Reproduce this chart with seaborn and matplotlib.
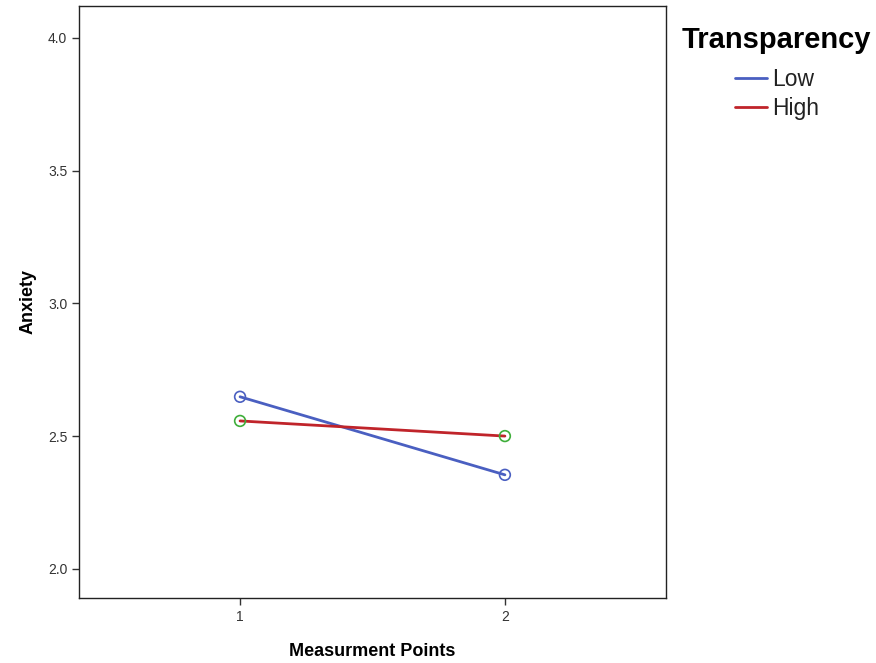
import pandas as pd
import matplotlib
matplotlib.use('Agg')
import matplotlib.pyplot as plt
import seaborn as sns

# Data
points = [1, 2]
low = [2.648, 2.354]
high = [2.557, 2.50]
groups = ['Low', 'High']

df = pd.DataFrame({
    'Measurment Points': points * 2,
    'Anxiety': low + high,
    'Transparency': [groups[0]] * 2 + [groups[1]] * 2,
})

sns.set_style('white')
plt.rcParams['font.family'] = ['Liberation Sans', 'DejaVu Sans']

line_colors = {'Low': '#4a5fc1', 'High': '#c0242a'}
marker_colors = {'Low': '#4a5fc1', 'High': '#3fae3a'}

fig = plt.figure(figsize=(8.76, 6.63), dpi=100)
ax = fig.add_axes([0.0902, 0.098, 0.670, 0.893])

sns.lineplot(data=df, x='Measurment Points', y='Anxiety', hue='Transparency',
             palette=line_colors, linewidth=2, ax=ax)
for g in groups:
    sub = df[df['Transparency'] == g]
    ax.scatter(sub['Measurment Points'], sub['Anxiety'], s=60,
               facecolors='none', edgecolors=marker_colors[g], linewidths=1.2, zorder=3)

ax.set_xlim(0.392, 2.608)
ax.set_ylim(1.89, 4.12)
ax.set_xticks(points)
ax.set_xticklabels(['1', '2'])
ax.set_yticks([2.0, 2.5, 3.0, 3.5, 4.0])
ax.set_yticklabels(['2.0', '2.5', '3.0', '3.5', '4.0'])
ax.tick_params(axis='both', length=5, width=1, color='#333333', labelsize=10,
               labelcolor='#333333', direction='out', bottom=True, left=True)
for s in ax.spines.values():
    s.set_color('#222222')
    s.set_linewidth(1)

ax.set_xlabel('Measurment Points', fontsize=13, fontweight='bold', labelpad=14, color='black')
ax.set_ylabel('Anxiety', fontsize=13, fontweight='bold', labelpad=8, color='black')

handles, labels = ax.get_legend_handles_labels()
leg = ax.legend(handles, labels, title='Transparency', loc='upper left',
                bbox_to_anchor=(1.008, 0.985), frameon=False, fontsize=16.5,
                title_fontsize=21, handlelength=1.4, handletextpad=0.22,
                labelspacing=0.25, borderpad=0, alignment='center')
leg.get_title().set_fontweight('bold')
leg.get_title().set_color('black')
leg._legend_box.sep = 10
for t in leg.get_texts():
    t.set_color('#222222')

fig.savefig('out.png', dpi=100)
